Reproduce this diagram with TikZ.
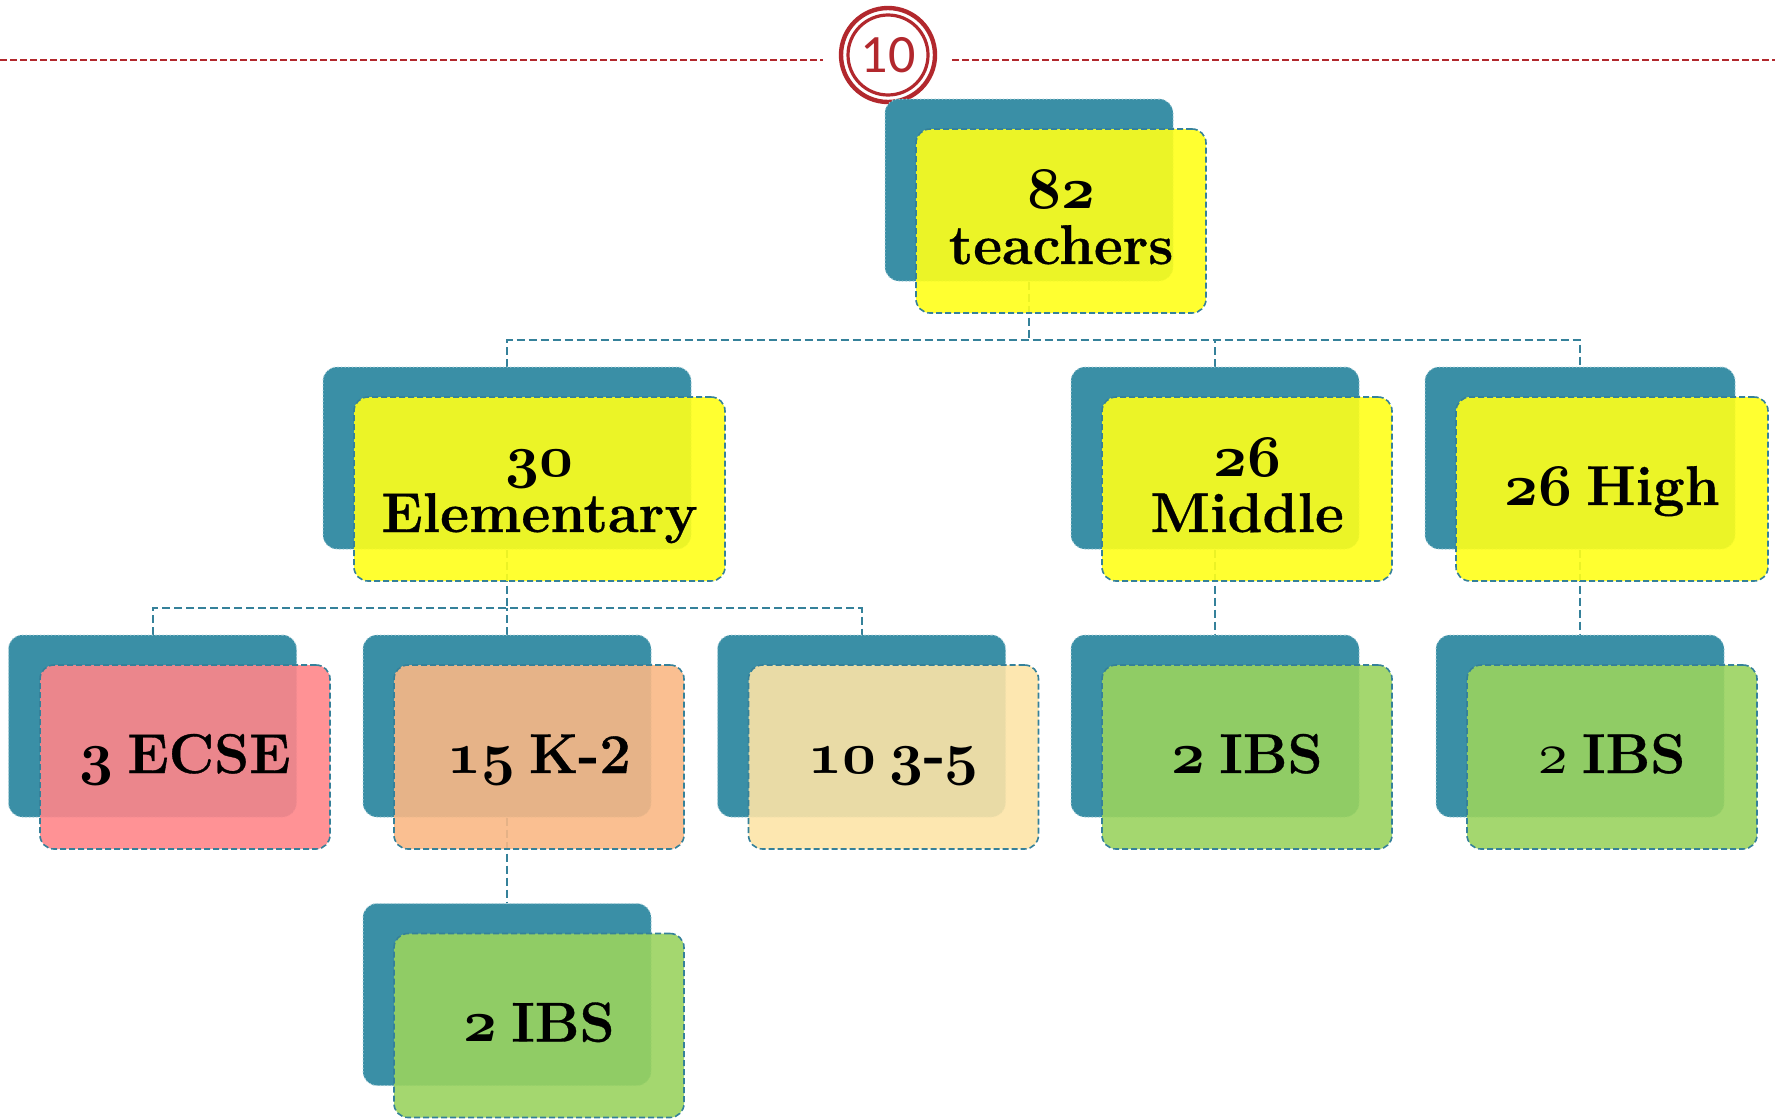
\documentclass[tikz,border=0pt]{standalone}
\usepackage{fontspec}
\setmainfont{Latin Modern Roman}[BoldFeatures={FakeBold=0.6}]
\newfontfamily\numfont{Carlito}
\usetikzlibrary{calc}
\definecolor{tealB}{HTML}{3A8FA6}
\definecolor{connC}{HTML}{35819A}
\definecolor{redC}{HTML}{B2282D}
\definecolor{yellowF}{HTML}{FFFF1A}
\definecolor{pinkF}{HTML}{FF868A}
\definecolor{orangeF}{HTML}{F9B885}
\definecolor{creamF}{HTML}{FDE4A7}
\definecolor{greenF}{HTML}{9AD35F}
\DeclareFontFamily{OML}{osfm}{\skewchar\font=127}
\DeclareFontShape{OML}{osfm}{b}{it}{<-> cmmib10}{}
\DeclareFontShape{OML}{osfm}{m}{it}{<-> cmmi10}{}
\newcommand\osn[1]{{\fontsize{29.5}{27.5}\usefont{OML}{osfm}{b}{it}#1}}
\newcommand\osr[1]{{\fontsize{29.5}{27.5}\usefont{OML}{osfm}{m}{it}#1}}
\newcommand\twol[2]{\begin{tabular}[b]{@{}c@{}}#1\\#2\end{tabular}}
\newcommand\boxfont{\fontsize{28}{27.5}\selectfont\bfseries\spaceskip 7pt\relax}
\pgfdeclarelayer{bglayer}
\pgfsetlayers{bglayer,main}
\begin{document}
\begin{tikzpicture}[x=0.5pt,y=-0.5pt,
  backbox/.style={draw=white!55!tealB, dash pattern=on 0.6pt off 1.2pt, line width=0.5pt,
    fill=tealB, rounded corners=7pt, minimum width=144pt, minimum height=91pt, inner sep=0pt},
  frontbox/.style={draw=connC, dash pattern=on 3pt off 1.5pt, line width=0.8pt,
    fill opacity=0.9, draw opacity=1, text opacity=1, rounded corners=7pt,
    minimum width=145pt, minimum height=92pt, inner sep=0pt,
    font=\boxfont},
  one/.style={text height=20pt, text depth=4pt},
  two/.style={text height=47pt, text depth=4pt},
  conn/.style={draw=connC, line width=1pt, dash pattern=on 4pt off 2pt},
  reddash/.style={draw=redC, line width=0.85pt, dash pattern=on 3.5pt off 1.5pt}
]
\useasboundingbox (0,0) rectangle (1775,1119);

% header line and badge
\coordinate (lineL) at (0,60);
\coordinate (lineLe) at (823,60);
\coordinate (lineRs) at (952,60);
\coordinate (lineR) at (1775,60);
\draw[reddash] (lineL) -- (lineLe);
\draw[reddash] (lineRs) -- (lineR);
\node[circle, draw=redC, line width=1.6pt, minimum size=40pt, inner sep=0pt, text=redC,
  font=\numfont\fontsize{27}{27}\selectfont] (badge) at (888,55) {10};
\draw[redC, line width=2.2pt] (badge.center) circle[radius=47];

% level 1
\node[backbox] (rootB) at (1029,190) {};
\node[frontbox, fill=yellowF, two] (rootF) at (1061,221) {\twol{\osn{82}}{teachers}};

% level 2
\node[backbox, minimum width=184pt] (elemB) at (507,458) {};
\node[frontbox, fill=yellowF, two, minimum width=185.5pt] (elemF) at (539.5,489) {\twol{\osn{30}}{Elementary}};
\node[backbox] (midB) at (1215,458) {};
\node[frontbox, fill=yellowF, two] (midF) at (1247,489) {\twol{\osn{26}}{Middle}};
\node[backbox, minimum width=155pt] (highB) at (1580,458) {};
\node[frontbox, fill=yellowF, one, minimum width=156pt] (highF) at (1612,489) {\osn{26} High};

% level 3
\node[backbox] (ecseB) at (152.5,726) {};
\node[frontbox, fill=pinkF, one] (ecseF) at (185,757) {\osn{3} ECSE};
\node[backbox] (ktB) at (507,726) {};
\node[frontbox, fill=orangeF, one] (ktF) at (539,757) {\osn{15} K-2};
\node[backbox] (tfB) at (861.5,726) {};
\node[frontbox, fill=creamF, one] (tfF) at (893.5,757) {\osn{10} \osn{3}-\osn{5}};
\node[backbox] (midIB) at (1215,726) {};
\node[frontbox, fill=greenF, one] (midIF) at (1247,757) {\osn{2} IBS};
\node[backbox] (highIB) at (1580,726) {};
\node[frontbox, fill=greenF, one] (highIF) at (1612,757) {\osr{2} IBS};

% level 4
\node[backbox] (ktIB) at (507,994.5) {};
\node[frontbox, fill=greenF, one] (ktIF) at (539,1025.5) {\osn{2} IBS};

% connectors
\begin{pgfonlayer}{bglayer}
\coordinate (busA) at (0,340);
\coordinate (busB) at (0,608);
\draw[conn] (rootB.south) -- (rootB.south |- busA);
\draw[conn] (elemB.north) |- (busA -| highB.north) -- (highB.north);
\draw[conn] (midB.north) -- (midB.north |- busA);
\draw[conn] (elemB.south) -- (elemB.south |- busB);
\draw[conn] (ecseB.north) |- (busB -| tfB.north) -- (tfB.north);
\draw[conn] (ktB.north) -- (ktB.north |- busB);
\draw[conn] (midB.south) -- (midIB.north);
\draw[conn] (highB.south) -- (highIB.north);
\draw[conn] (ktB.south) -- (ktIB.north);
\end{pgfonlayer}
\end{tikzpicture}
\end{document}
